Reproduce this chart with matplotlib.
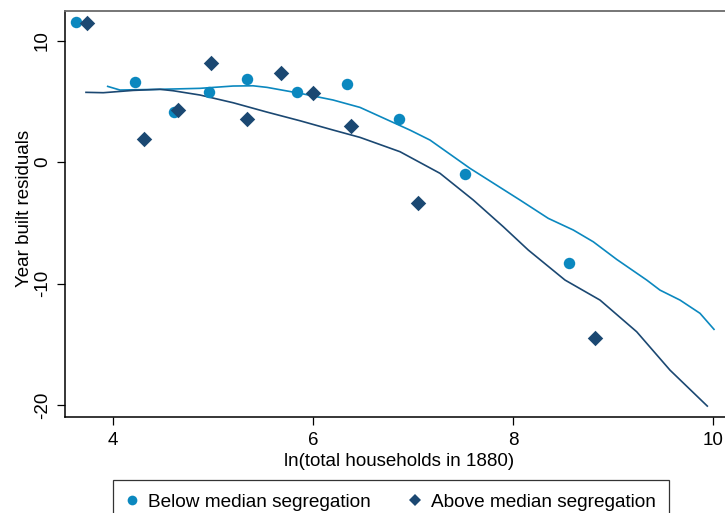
import matplotlib
matplotlib.use("Agg")
import matplotlib.pyplot as plt
from matplotlib.lines import Line2D

plt.rcParams['font.family'] = ['Liberation Sans', 'DejaVu Sans']
plt.rcParams['axes.unicode_minus'] = False

LIGHT = '#0b88bf'
DARK = '#1b4872'

# Binned scatter points
below_x = [3.633, 4.22, 4.61, 4.963, 5.343, 5.837, 6.343, 6.863, 7.523, 8.563]
below_y = [11.52, 6.62, 4.15, 5.75, 6.85, 5.75, 6.46, 3.57, -0.96, -8.29]
above_x = [3.743, 4.31, 4.653, 4.983, 5.337, 5.68, 6.003, 6.377, 7.05, 8.823]
above_y = [11.46, 1.88, 4.29, 8.14, 3.57, 7.36, 5.72, 2.97, -3.37, -14.52]

# Lowess curves
below_fit_x = [3.947, 4.07, 4.47, 4.87, 5.20, 5.40, 5.54, 5.87, 6.20, 6.47, 6.97, 7.17,
               7.57, 8.07, 8.353, 8.603, 8.803, 9.037, 9.337, 9.47, 9.67, 9.87, 10.01]
below_fit_y = [6.24, 5.94, 6.00, 6.08, 6.27, 6.29, 6.16, 5.67, 5.12, 4.51, 2.64, 1.82,
               -0.51, -3.12, -4.63, -5.59, -6.56, -8.01, -9.71, -10.54, -11.36, -12.45, -13.77]
above_fit_x = [3.73, 3.903, 4.203, 4.47, 4.603, 4.87, 5.203, 5.537, 5.87, 6.203, 6.47,
               6.87, 7.27, 7.603, 7.903, 8.153, 8.52, 8.87, 9.237, 9.57, 9.943]
above_fit_y = [5.75, 5.72, 5.91, 6.00, 5.88, 5.53, 4.89, 4.13, 3.41, 2.64, 2.04,
               0.86, -0.92, -3.12, -5.32, -7.24, -9.71, -11.36, -13.97, -17.13, -20.09]

x_ticks = [4, 6, 8, 10]
y_ticks = [-20, -10, 0, 10]

FS = 13.5

fig = plt.figure(figsize=(7.25, 5.13), dpi=100)
ax = fig.add_axes([65 / 725, 1 - 417 / 513, (733 - 65) / 725, (417 - 11) / 513])

ax.plot(below_fit_x, below_fit_y, color=LIGHT, lw=1.2, zorder=2)
ax.plot(above_fit_x, above_fit_y, color=DARK, lw=1.2, zorder=2)
ax.scatter(below_x, below_y, s=68, marker='o', color=LIGHT, linewidths=0, zorder=3)
ax.scatter(above_x, above_y, s=62, marker='D', color=DARK, linewidths=0, zorder=4)

ax.set_xlim(3.52, 10.2)
ax.set_ylim(-20.99, 12.45)
ax.set_xticks(x_ticks)
ax.set_yticks(y_ticks)
ax.tick_params(axis='both', length=6, width=0.9, labelsize=FS, color='black')
ax.tick_params(axis='y', labelrotation=90, pad=4)
ax.tick_params(axis='x', pad=5)
for lbl in ax.get_yticklabels():
    lbl.set_va('center')

for side in ('left', 'bottom'):
    ax.spines[side].set_color('black')
    ax.spines[side].set_linewidth(1.1)
ax.spines['top'].set_color('#6b6b6b')
ax.spines['top'].set_linewidth(1.3)
ax.spines['right'].set_visible(False)

ax.set_xlabel('ln(total households in 1880)', fontsize=FS, labelpad=3)
ax.set_ylabel('Year built residuals', fontsize=FS)
ax.yaxis.set_label_coords(-0.048, 0.5135)

handles = [
    Line2D([], [], marker='o', ls='none', color=LIGHT, markersize=7, markeredgewidth=0),
    Line2D([], [], marker='D', ls='none', color=DARK, markersize=6, markeredgewidth=0),
]
leg = fig.legend(handles, ['Below median segregation', 'Above median segregation'],
                 loc='upper center', bbox_to_anchor=(391 / 725, 1 - 480 / 513),
                 ncol=2, fontsize=13.7, frameon=True, fancybox=False,
                 edgecolor='black', handletextpad=0.55, columnspacing=2.0,
                 borderpad=0.7, handlelength=0.6, borderaxespad=0)
leg.get_frame().set_linewidth(0.9)

fig.savefig('out.png', dpi=100)
